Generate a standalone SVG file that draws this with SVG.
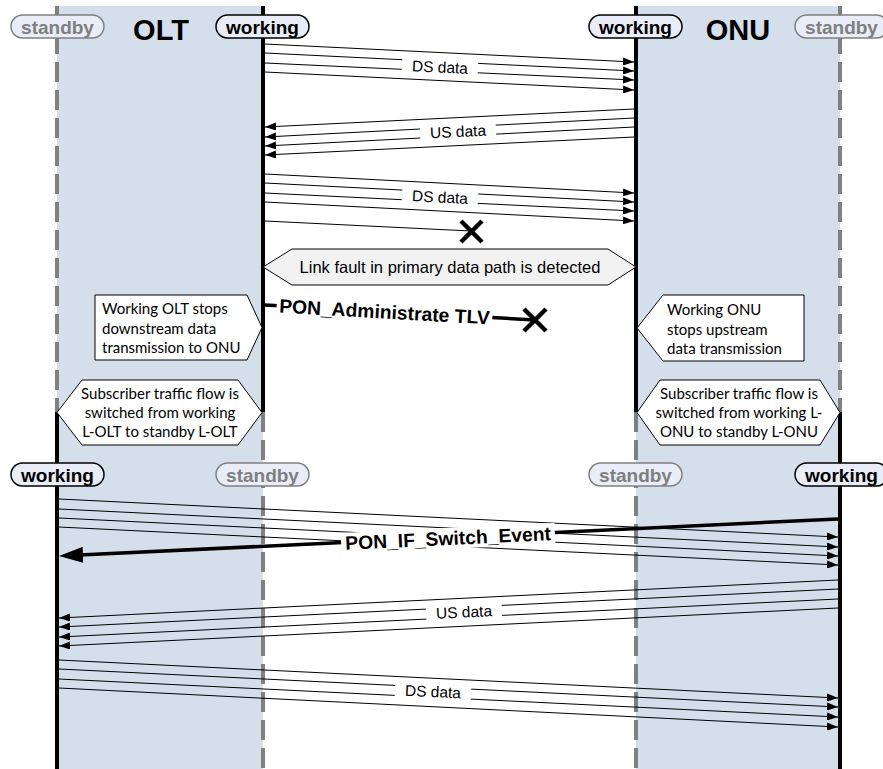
<svg xmlns="http://www.w3.org/2000/svg" width="883" height="769" viewBox="0 0 883 769">
<style>
.band{fill:#d5dfec}
.life{stroke:#000;stroke-width:4;fill:none}
.dash{stroke:#808080;stroke-width:4;fill:none;stroke-dasharray:20 8}
.pill{fill:#e8edf7;stroke-width:1.5}
.pw{stroke:#000}
.ps{stroke:#808080}
.ptw{font-family:"Liberation Sans",Arial,sans-serif;font-weight:bold;font-size:19px;fill:#000;text-anchor:middle}
.pts{font-family:"Liberation Sans",Arial,sans-serif;font-weight:bold;font-size:19px;fill:#7f7f7f;text-anchor:middle}
.title{font-family:"Liberation Sans",Arial,sans-serif;font-weight:bold;font-size:29px;fill:#000;text-anchor:middle}
.msg{stroke:#000;stroke-width:1;fill:none;marker-end:url(#ah)}
.msgn{stroke:#000;stroke-width:1;fill:none}
.thick{stroke:#000;stroke-width:3.5;fill:none}
.lbl{font-family:"Liberation Sans",Arial,sans-serif;font-size:15.5px;fill:#000;text-anchor:middle}
.blbl{font-family:"Liberation Sans",Arial,sans-serif;font-weight:bold;font-size:19.3px;fill:#000;text-anchor:middle}
.bg{fill:#fff}
.xm{stroke:#000;stroke-width:4.5;fill:none}
.note{fill:#fff;stroke:#000;stroke-width:1}
.hexg{fill:#f2f2f2;stroke:#000;stroke-width:1}
.nt{font-family:Lato,"Open Sans",sans-serif;font-size:15px;fill:#000}
.ntc{font-family:Lato,"Open Sans",sans-serif;font-size:15px;fill:#000;text-anchor:middle}
.ht{font-family:"Liberation Sans",Arial,sans-serif;font-size:16.5px;fill:#000;text-anchor:middle}
</style>
<defs>
<marker id="ah" markerUnits="userSpaceOnUse" markerWidth="11" markerHeight="8" viewBox="0 0 11 8" refX="11" refY="4" orient="auto"><path d="M0,0 L11,4 L0,8 z" fill="#000"/></marker>
<marker id="ahb" markerUnits="userSpaceOnUse" markerWidth="24" markerHeight="16" viewBox="0 0 24 16" refX="14" refY="8" orient="auto"><path d="M0,0 L24,8 L0,16 z" fill="#000"/></marker>
</defs>
<rect width="883" height="769" fill="#fff"/>
<g id="olt-band"><rect class="band" x="57" y="6" width="206" height="763"/></g>
<g id="onu-band"><rect class="band" x="636" y="6" width="204" height="763"/></g>
<g id="lifelines">
<line class="dash" x1="57" y1="6" x2="57" y2="412"/>
<line class="life" x1="57" y1="412" x2="57" y2="769"/>
<line class="life" x1="263" y1="6" x2="263" y2="412"/>
<line class="dash" x1="263" y1="412" x2="263" y2="769"/>
<line class="life" x1="636" y1="6" x2="636" y2="412"/>
<line class="dash" x1="636" y1="412" x2="636" y2="769"/>
<line class="dash" x1="840" y1="6" x2="840" y2="412"/>
<line class="life" x1="840" y1="412" x2="840" y2="769"/>
</g>
<g id="title-olt"><text class="title" x="161" y="40">OLT</text></g>
<g id="title-onu"><text class="title" x="738" y="40">ONU</text></g>
<g id="pill-olt-standby-top"><rect class="pill ps" x="11" y="15" width="93" height="23" rx="11.5"/><text class="pts" x="57.5" y="33.5">standby</text></g>
<g id="pill-olt-working-top"><rect class="pill pw" x="216" y="15" width="93" height="23" rx="11.5"/><text class="ptw" x="262.5" y="33.5">working</text></g>
<g id="pill-onu-working-top"><rect class="pill pw" x="589" y="15" width="93" height="23" rx="11.5"/><text class="ptw" x="635.5" y="33.5">working</text></g>
<g id="pill-onu-standby-top"><rect class="pill ps" x="795" y="15" width="93" height="23" rx="11.5"/><text class="pts" x="841.5" y="33.5">standby</text></g>
<g id="pill-olt-working-bot"><rect class="pill pw" x="11" y="463" width="93" height="23" rx="11.5"/><text class="ptw" x="57.5" y="481.5">working</text></g>
<g id="pill-olt-standby-bot"><rect class="pill ps" x="216" y="463" width="93" height="23" rx="11.5"/><text class="pts" x="262.5" y="481.5">standby</text></g>
<g id="pill-onu-standby-bot"><rect class="pill ps" x="589" y="463" width="93" height="23" rx="11.5"/><text class="pts" x="635.5" y="481.5">standby</text></g>
<g id="pill-onu-working-bot"><rect class="pill pw" x="795" y="463" width="93" height="23" rx="11.5"/><text class="ptw" x="841.5" y="481.5">working</text></g>
<g id="hex-link-fault"><polygon class="hexg" points="263,267 292,249 608,249 636,267 608,285 292,285"/><text class="ht" x="450" y="273">Link fault in primary data path is detected</text></g>
<g id="note-olt-stop"><polygon class="note" points="95,295 247,295 262,327.5 247,360 95,360"/><text class="nt" x="102" y="314">Working OLT stops</text><text class="nt" x="102" y="334">downstream data</text><text class="nt" x="102" y="353">transmission to ONU</text></g>
<g id="note-onu-stop"><polygon class="note" points="637,328 663,295 804,295 804,361 663,361"/><text class="nt" x="667" y="315">Working ONU</text><text class="nt" x="667" y="335">stops upstream</text><text class="nt" x="667" y="354">data transmission</text></g>
<g id="hex-olt-switch"><polygon class="note" points="57,412.5 82,380 238,380 262,412.5 238,445 82,445"/><text class="ntc" x="160" y="399">Subscriber traffic flow is</text><text class="ntc" x="160" y="418">switched from working</text><text class="ntc" x="160" y="437">L-OLT to standby L-OLT</text></g>
<g id="hex-onu-switch"><polygon class="note" points="637,412.5 660,380 820,380 840,412.5 820,445 660,445"/><text class="ntc" x="739" y="399">Subscriber traffic flow is</text><text class="ntc" x="739" y="418">switched from working L-</text><text class="ntc" x="739" y="437">ONU to standby L-ONU</text></g>
<g id="connectors">
<line class="msg" x1="265" y1="44" x2="634" y2="62"/>
<line class="msg" x1="265" y1="53" x2="634" y2="71"/>
<line class="msg" x1="265" y1="63" x2="634" y2="80"/>
<line class="msg" x1="265" y1="72" x2="634" y2="90"/>
<g transform="translate(440,67) rotate(2.76)"><rect class="bg" x="-38" y="-10" width="76" height="20"/><text class="lbl" x="0" y="5.5">DS data</text></g>
<line class="msg" x1="634" y1="109" x2="265" y2="127"/>
<line class="msg" x1="634" y1="118" x2="265" y2="137"/>
<line class="msg" x1="634" y1="127" x2="265" y2="146"/>
<line class="msg" x1="634" y1="137" x2="265" y2="155"/>
<g transform="translate(458,131.5) rotate(-2.76)"><rect class="bg" x="-38" y="-10" width="76" height="20"/><text class="lbl" x="0" y="5.5">US data</text></g>
<line class="msg" x1="265" y1="174" x2="634" y2="193"/>
<line class="msg" x1="265" y1="183" x2="634" y2="202"/>
<line class="msg" x1="265" y1="193" x2="634" y2="211"/>
<line class="msg" x1="265" y1="202" x2="634" y2="221"/>
<g transform="translate(440,197) rotate(2.9)"><rect class="bg" x="-38" y="-10" width="76" height="20"/><text class="lbl" x="0" y="5.5">DS data</text></g>
<line class="msgn" x1="265" y1="221" x2="471" y2="231"/>
<path class="xm" d="M461,221 L482,242 M482,221 L461,242"/>
<line class="thick" x1="265" y1="305" x2="535" y2="320"/>
<g transform="translate(384.5,311.5) rotate(3.2)"><rect class="bg" x="-108" y="-11" width="216" height="22"/><text class="blbl" x="0" y="7">PON_Administrate TLV</text></g>
<path class="xm" d="M524,309 L546,331 M546,309 L524,331"/>
<line class="msg" x1="59" y1="499" x2="838" y2="537"/>
<line class="msg" x1="59" y1="509" x2="838" y2="547"/>
<line class="msg" x1="59" y1="518" x2="838" y2="556"/>
<line class="msg" x1="59" y1="527" x2="838" y2="565"/>
<line class="thick" x1="838" y1="519" x2="69" y2="555.5" style="marker-end:url(#ahb)"/>
<g transform="translate(448,538) rotate(-2.72)"><rect class="bg" x="-107" y="-10" width="214" height="21"/><text class="blbl" x="0" y="7">PON_IF_Switch_Event</text></g>
<line class="msg" x1="838" y1="580" x2="59" y2="618"/>
<line class="msg" x1="838" y1="589" x2="59" y2="627"/>
<line class="msg" x1="838" y1="599" x2="59" y2="637"/>
<line class="msg" x1="838" y1="608" x2="59" y2="646"/>
<g transform="translate(464,612) rotate(-2.78)"><rect class="bg" x="-38" y="-10" width="76" height="20"/><text class="lbl" x="0" y="5.5">US data</text></g>
<line class="msg" x1="59" y1="660" x2="838" y2="698"/>
<line class="msg" x1="59" y1="669" x2="838" y2="707"/>
<line class="msg" x1="59" y1="679" x2="838" y2="717"/>
<line class="msg" x1="59" y1="688" x2="838" y2="727"/>
<g transform="translate(433,691.5) rotate(2.8)"><rect class="bg" x="-38" y="-10" width="76" height="20"/><text class="lbl" x="0" y="5.5">DS data</text></g>
</g>
</svg>
